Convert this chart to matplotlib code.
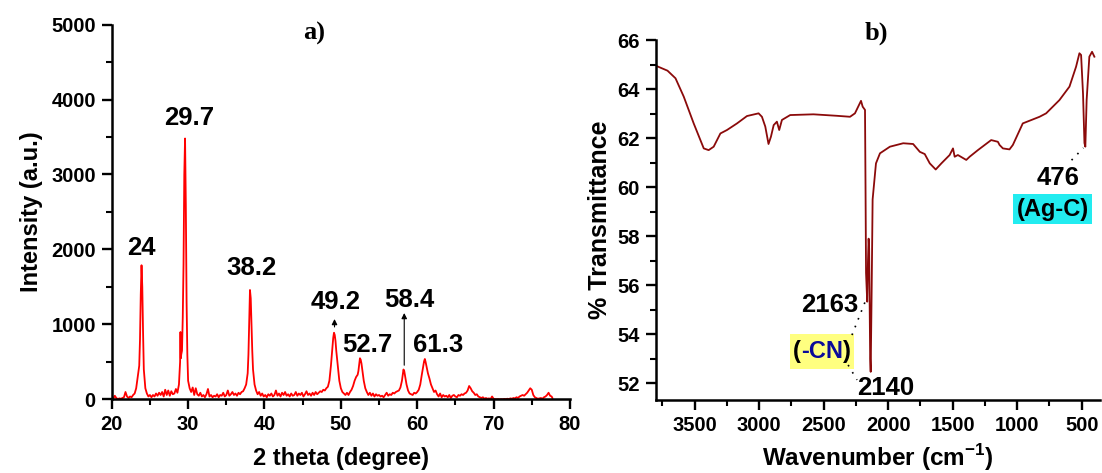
import matplotlib
matplotlib.use("Agg")
import matplotlib.pyplot as plt
from matplotlib.ticker import MultipleLocator
from matplotlib.patches import Rectangle
from matplotlib.transforms import Bbox

plt.rcParams['font.family'] = ['Liberation Sans', 'DejaVu Sans']
plt.rcParams['font.weight'] = 'bold'
plt.rcParams['mathtext.fontset'] = 'custom'
plt.rcParams['mathtext.rm'] = 'Liberation Sans:bold'
plt.rcParams['mathtext.bf'] = 'Liberation Sans:bold'

# ---------------- XRD data (panel a) ----------------
xrd_2theta = [20.0, 20.2, 20.4, 20.6, 20.8, 21.0, 21.2, 21.4, 21.6, 21.8, 22.0, 22.2, 22.4, 22.6, 22.8,
              23.0, 23.2, 23.4, 23.6, 23.7, 23.8, 23.9, 24.0, 24.1, 24.2, 24.4, 24.6, 24.8, 25.0, 25.2,
              25.4, 25.6, 25.8, 26.0, 26.2, 26.4, 26.6, 26.8, 27.0, 27.2, 27.4, 27.6, 27.8, 28.0, 28.2,
              28.4, 28.6, 28.8, 28.95, 29.0, 29.05, 29.1, 29.2, 29.3, 29.4, 29.5, 29.6, 29.7, 29.8, 29.9,
              30.0, 30.2, 30.4, 30.6, 30.8, 31.0, 31.2, 31.4, 31.6, 31.8, 32.0, 32.2, 32.4, 32.6, 32.8,
              33.0, 33.2, 33.4, 33.6, 33.8, 34.0, 34.2, 34.4, 34.6, 34.8, 35.0, 35.2, 35.4, 35.6, 35.8,
              36.0, 36.2, 36.4, 36.6, 36.8, 37.0, 37.2, 37.4, 37.6, 37.8, 37.9, 38.0, 38.1, 38.2, 38.3,
              38.4, 38.5, 38.7, 38.9, 39.1, 39.3, 39.5, 39.7, 39.9, 40.1, 40.3, 40.5, 40.7, 40.9, 41.1,
              41.3, 41.5, 41.7, 41.9, 42.1, 42.3, 42.5, 42.7, 42.9, 43.1, 43.3, 43.5, 43.7, 43.9, 44.1,
              44.3, 44.5, 44.7, 44.9, 45.1, 45.3, 45.5, 45.7, 45.9, 46.1, 46.3, 46.5, 46.7, 46.9, 47.1,
              47.3, 47.5, 47.7, 47.9, 48.1, 48.3, 48.5, 48.7, 48.9, 49.0, 49.1, 49.2, 49.3, 49.4, 49.6,
              49.8, 50.0, 50.2, 50.4, 50.6, 50.8, 51.0, 51.2, 51.4, 51.6, 51.8, 52.0, 52.2, 52.3, 52.4,
              52.5, 52.6, 52.7, 52.8, 53.0, 53.2, 53.4, 53.6, 53.8, 54.0, 54.2, 54.4, 54.6, 54.8, 55.0,
              55.2, 55.4, 55.6, 55.8, 56.0, 56.2, 56.4, 56.6, 56.8, 57.0, 57.2, 57.4, 57.6, 57.8, 58.0,
              58.1, 58.2, 58.3, 58.4, 58.6, 58.8, 59.0, 59.2, 59.4, 59.6, 59.8, 60.0, 60.2, 60.4, 60.6,
              60.8, 60.9, 61.0, 61.1, 61.2, 61.4, 61.6, 61.8, 62.0, 62.2, 62.4, 62.6, 62.8, 63.0, 63.2,
              63.4, 63.6, 63.8, 64.0, 64.2, 64.4, 64.6, 64.8, 65.0, 65.2, 65.4, 65.6, 65.8, 66.0, 66.2,
              66.4, 66.6, 66.8, 67.0, 67.2, 67.4, 67.6, 67.8, 68.0, 68.2, 68.4, 68.6, 68.8, 69.0, 69.2,
              69.4, 69.6, 69.8, 70.0, 70.2, 70.4, 70.6, 70.8, 71.0, 71.2, 71.4, 71.6, 71.8, 72.0, 72.2,
              72.4, 72.6, 72.8, 73.0, 73.2, 73.4, 73.6, 73.8, 74.0, 74.2, 74.4, 74.6, 74.8, 75.0, 75.2,
              75.4, 75.6, 75.8, 76.0, 76.2, 76.4, 76.6, 76.8, 77.0, 77.2, 77.4, 77.6, 77.7]
xrd_intensity = [30, 10, 50, 20, 5, 15, 10, 20, 30, 100, 40, 20, 40, 30, 60,
                 80, 150, 300, 450, 800, 1400, 1790, 1500, 900, 400, 150, 80, 40, 60, 30,
                 60, 40, 80, 50, 90, 60, 100, 40, 130, 60, 120, 50, 110, 70, 80,
                 140, 90, 200, 500, 900, 550, 600, 650, 1100, 1800, 3000, 3480, 2600, 1300, 600,
                 250, 150, 100, 160, 60, 150, 70, 50, 90, 40, 60, 30, 70, 140, 40,
                 60, 30, 50, 40, 70, 30, 60, 50, 90, 40, 60, 120, 50, 70, 100,
                 60, 80, 50, 90, 70, 100, 110, 150, 200, 350, 600, 1050, 1460, 1350, 1000,
                 650, 400, 200, 120, 70, 100, 50, 80, 40, 60, 30, 70, 50, 80, 40,
                 60, 120, 50, 80, 40, 90, 60, 100, 50, 70, 40, 80, 50, 60, 100,
                 50, 80, 60, 90, 40, 70, 110, 60, 80, 50, 90, 60, 100, 70, 90,
                 110, 100, 130, 120, 150, 170, 250, 450, 700, 820, 890, 860, 780, 650, 450,
                 250, 150, 100, 80, 60, 90, 60, 100, 130, 180, 250, 300, 330, 380, 460,
                 550, 530, 480, 400, 250, 150, 100, 60, 90, 50, 80, 40, 70, 50, 60,
                 40, 50, 30, 60, 90, 50, 70, 60, 90, 80, 100, 110, 120, 160, 250,
                 330, 400, 380, 320, 200, 120, 80, 70, 60, 90, 80, 100, 130, 200, 330,
                 450, 510, 540, 500, 450, 350, 280, 200, 150, 100, 120, 70, 40, 80, 30,
                 60, 40, 50, 30, 60, 20, 50, 60, 40, 30, 60, 50, 70, 60, 80,
                 90, 120, 180, 150, 110, 90, 60, 70, 40, 30, 20, 30, 10, 20, 10,
                 15, 5, 40, 10, 5, 3, 5, 2, 5, 3, 8, 5, 10, 5, 15,
                 10, 20, 15, 30, 20, 40, 50, 60, 50, 70, 90, 120, 150, 130, 60,
                 30, 20, 10, 15, 20, 10, 30, 40, 60, 90, 50, 40, 20]

xrd_labels = ["24", "29.7", "38.2", "49.2", "52.7", "58.4", "61.3"]
xrd_label_x = [23.9, 30.1, 38.3, 49.3, 53.4, 58.9, 62.8]
xrd_label_y = [2020, 3750, 1750, 1300, 727, 1327, 727]

# ---------------- FTIR data (panel b) ----------------
ftir_wavenumber = [3796, 3711, 3649, 3585, 3508, 3430, 3392, 3353, 3301, 3250, 3172, 3095, 3005,
                   2979, 2953, 2928, 2909, 2888, 2863, 2845, 2824, 2760, 2580, 2399, 2296, 2258,
                   2211, 2198, 2180, 2176, 2172, 2163, 2157, 2152, 2148, 2140, 2136, 2128, 2121,
                   2095, 2064, 1987, 1884, 1807, 1755, 1717, 1678, 1632, 1588, 1524, 1498, 1485,
                   1460, 1395, 1369, 1305, 1202, 1150, 1137, 1111, 1060, 1034, 957, 827, 776, 673,
                   595, 544, 518, 505, 490, 479, 472, 462, 441, 420, 402]
ftir_transmittance = [64.94, 64.75, 64.44, 63.69, 62.60, 61.58, 61.51, 61.65, 62.19, 62.33, 62.60,
                      62.90, 63.01, 62.87, 62.47, 61.76, 62.06, 62.53, 62.67, 62.33, 62.74, 62.94,
                      62.97, 62.91, 62.87, 63.01, 63.52, 63.28, 63.15, 60.0, 56.5, 55.33, 57.0,
                      57.9, 57.5, 53.0, 52.47, 56.0, 59.5, 60.97, 61.38, 61.65, 61.79, 61.76,
                      61.44, 61.35, 60.97, 60.72, 60.97, 61.31, 61.58, 61.24, 61.31, 61.11, 61.24,
                      61.51, 61.92, 61.85, 61.72, 61.58, 61.54, 61.72, 62.60, 62.87, 63.01, 63.55,
                      64.10, 64.91, 65.46, 65.39, 63.8, 61.8, 61.65, 63.55, 65.32, 65.52, 65.32]

fig = plt.figure(figsize=(11.02, 4.73), dpi=100)

def style_axes(ax):
    for s in ['top', 'right']:
        ax.spines[s].set_visible(False)
    for s in ['left', 'bottom']:
        ax.spines[s].set_linewidth(1.8)
    ax.tick_params(which='major', direction='out', length=7.5, width=1.7, labelsize=14.5, pad=4)
    ax.tick_params(which='minor', direction='out', length=4.5, width=1.5)
    for lab in ax.get_xticklabels() + ax.get_yticklabels():
        lab.set_fontweight('bold')

# Panel a
axa = fig.add_axes([0.1014, 0.1554, 0.4158, 0.7928])
axa.plot(xrd_2theta, xrd_intensity, color='#ff0000', lw=1.3)
axa.set_xlim(20, 80)
axa.set_ylim(0, 5000)
axa.xaxis.set_major_locator(MultipleLocator(10))
axa.xaxis.set_minor_locator(MultipleLocator(5))
axa.yaxis.set_major_locator(MultipleLocator(1000))
axa.yaxis.set_minor_locator(MultipleLocator(500))
style_axes(axa)
axa.set_xlabel('2 theta (degree)', fontsize=17, fontweight='bold', labelpad=9)
axa.set_ylabel('Intensity (a.u.)', fontsize=17, fontweight='bold', labelpad=6)
for t, x, y in zip(xrd_labels, xrd_label_x, xrd_label_y):
    axa.text(x, y, t, fontsize=18.5, fontweight='bold', ha='center', va='center')
axa.annotate('', xy=(49.17, 1110), xytext=(49.17, 930),
             arrowprops=dict(arrowstyle='-|>', color='black', lw=0.8, mutation_scale=8))
axa.annotate('', xy=(58.3, 1190), xytext=(58.3, 420),
             arrowprops=dict(arrowstyle='-|>', color='black', lw=0.8, mutation_scale=8))
fig.text(0.285, 0.930, 'a)', fontsize=19, fontweight='bold', family=['Liberation Serif', 'DejaVu Serif'],
         ha='center', va='center')

# Panel b
axb = fig.add_axes([0.5953, 0.1543, 0.4027, 0.7611])
axb.plot(ftir_wavenumber, ftir_transmittance, color='#8b0a0a', lw=1.3)
axb.set_xlim(3800, 360)
axb.set_ylim(51.32, 66.0)
axb.xaxis.set_major_locator(MultipleLocator(500))
axb.xaxis.set_minor_locator(MultipleLocator(250))
axb.yaxis.set_major_locator(MultipleLocator(2))
axb.yaxis.set_minor_locator(MultipleLocator(1))
style_axes(axb)
axb.set_xlabel('Wavenumber (cm$^{-1}$)', fontsize=17.5, fontweight='bold', labelpad=5)
axb.set_ylabel('% Transmittance', fontsize=18, fontweight='bold', labelpad=4)

axb.text(2451, 55.2, '2163', fontsize=18.5, fontweight='bold', ha='center', va='center')
t1 = axb.text(2740, 53.3, '(', fontsize=17, fontweight='bold', ha='left', va='center',
              color='black', zorder=5)
t2 = axb.annotate('-CN', xy=(1, 0), xycoords=t1, ha='left', va='bottom', fontsize=17,
                  fontweight='bold', color='#0a0a9a', zorder=5)
t3 = axb.annotate(')', xy=(1, 0), xycoords=t2, ha='left', va='bottom', fontsize=17,
                  fontweight='bold', color='black', zorder=5)
# yellow highlight behind "(-CN)", sized from the text extents
renderer = fig.canvas.get_renderer()
bb = Bbox.union([t.get_window_extent(renderer) for t in (t1, t2, t3)])
padx, pady = 3, 6
inv = fig.transFigure.inverted()
(x0, y0), (x1, y1) = inv.transform([(bb.x0 - padx, bb.y0 - pady), (bb.x1 + padx, bb.y1 + pady)])
axb.add_patch(Rectangle((x0, y0), x1 - x0, y1 - y0, transform=fig.transFigure,
                        fc='#ffff80', ec='none', zorder=1.5, clip_on=False))

axb.text(2019, 51.8, '2140', fontsize=18.5, fontweight='bold', ha='center', va='center')
axb.text(685, 60.36, '476', fontsize=18.5, fontweight='bold', ha='center', va='center')
axb.text(724, 59.1, '(Ag-C)', fontsize=17, fontweight='bold', ha='center', va='center',
         bbox=dict(boxstyle='square,pad=0.15', fc='#22ecf0', ec='none'))
axb.plot([2281, 2181], [53.97, 55.3], ls=(0, (1, 4)), color='black', lw=1.2)
axb.plot([2311, 2242], [52.75, 52.14], ls=(0, (1, 4)), color='black', lw=1.2)
axb.plot([579, 487], [61.1, 61.6], ls=(0, (1, 4)), color='black', lw=1.2)
fig.text(0.795, 0.930, 'b)', fontsize=19, fontweight='bold', family=['Liberation Serif', 'DejaVu Serif'],
         ha='center', va='center')

fig.savefig('out.png', dpi=100)
